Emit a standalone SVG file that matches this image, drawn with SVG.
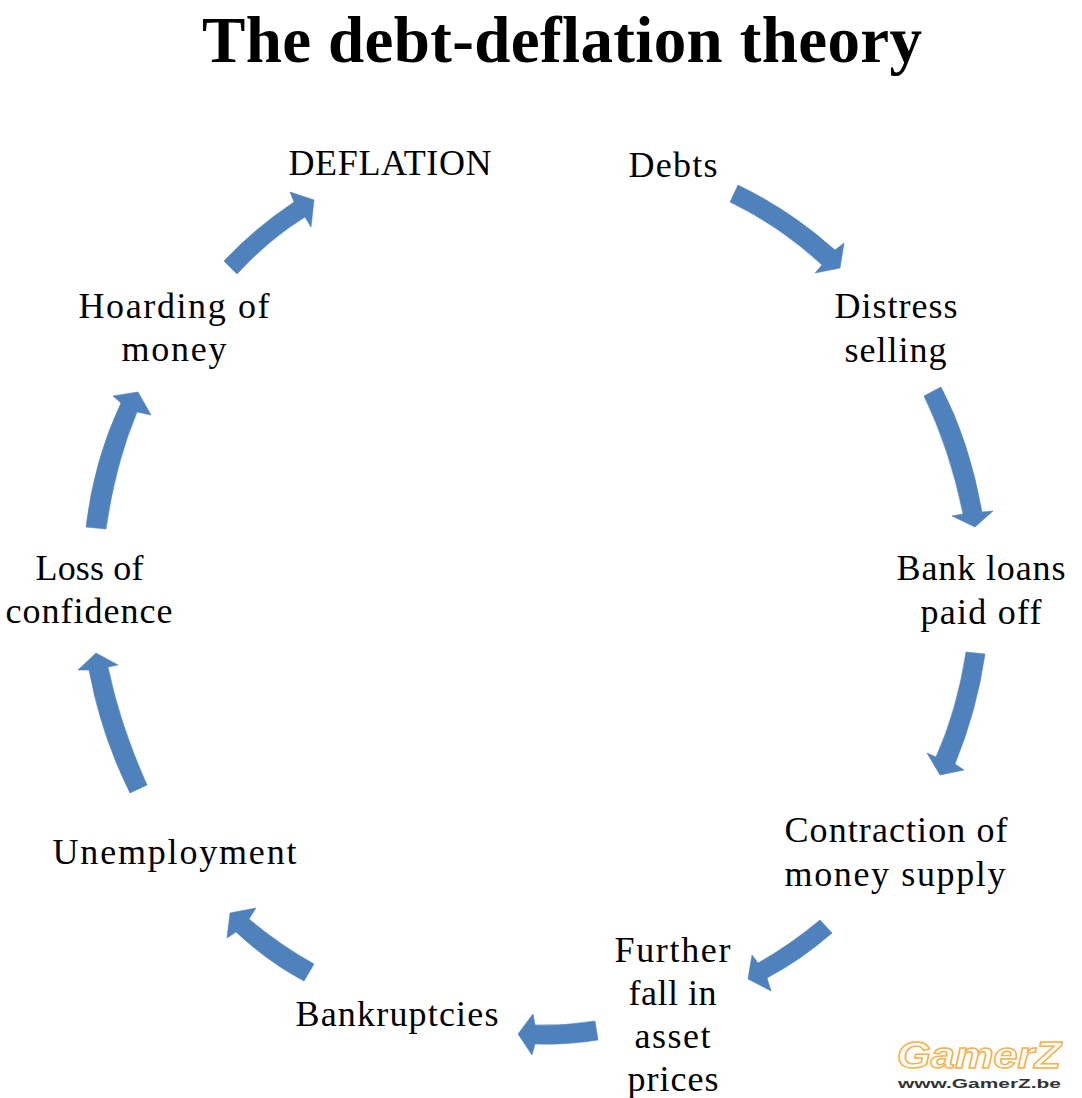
<svg xmlns="http://www.w3.org/2000/svg" width="1082" height="1098" viewBox="0 0 1082 1098">
<style>
text{font-family:"Liberation Serif","DejaVu Serif",serif;fill:#000}
.n{font-size:36px;transform:translateX(-.5px)}
.t{font-size:65px;font-weight:700}
.a{fill:#4f81bd;stroke:#4f81bd;stroke-width:.6;stroke-linejoin:miter}
.g{font-family:"Liberation Sans",Arial,sans-serif;font-style:italic;font-size:36px;font-weight:700;fill:#fff;stroke:#f7b04a;stroke-width:1.4}
.w{font-family:"Liberation Sans",Arial,sans-serif;font-size:13px;font-weight:700;fill:#333}
</style>
<rect width="1082" height="1098" fill="#fff"/>
<text id="title" class="t" x="202" y="62" textLength="720" lengthAdjust="spacing">The debt-deflation theory</text>
<g id="connectors">
<path class="a" d="M738,185Q790,210 835,250L844,243L840,268L815,273L822,265Q780,226 730,202Z"/>
<path class="a" d="M924,396Q950,450 963,514L952,516L975,527L993,511L982,512Q969,440 941,387Z"/>
<path class="a" d="M966,652Q957,710 936,757L927,753L940,775L964,770L955,764Q977,710 985,654Z"/>
<path class="a" d="M820,920Q790,945 758,963L752,955L748,979L771,991L767,978Q801,960 832,933Z"/>
<path class="a" d="M595,1021Q565,1026 535,1025L533,1014L518,1034L532,1055L535,1044Q568,1045 598,1040Z"/>
<path class="a" d="M314,964Q280,945 249,919L256,908L230,913L227,938L236,932Q268,962 304,981Z"/>
<path class="a" d="M147,785Q120,725 108,667L118,665L96,653L78,670L89,670Q101,735 130,793Z"/>
<path class="a" d="M86,527Q94,460 121,403L113,396L138,392L151,415L137,412Q115,465 106,529Z"/>
<path class="a" d="M224,261Q255,228 294,202L290,192L314,200L311,227L305,217Q268,240 237,274Z"/>
</g>
<g id="deflation"><text class="n" x="289" y="175" textLength="203" lengthAdjust="spacing">DEFLATION</text></g>
<g id="debts"><text class="n" x="629" y="177" textLength="89" lengthAdjust="spacing">Debts</text></g>
<g id="distress-selling"><text class="n" x="835" y="318" textLength="123" lengthAdjust="spacing">Distress</text><text class="n" x="845" y="362" textLength="102" lengthAdjust="spacing">selling</text></g>
<g id="bank-loans"><text class="n" x="897" y="580" textLength="169" lengthAdjust="spacing">Bank loans</text><text class="n" x="921" y="624" textLength="121" lengthAdjust="spacing">paid off</text></g>
<g id="contraction"><text class="n" x="785" y="842" textLength="223" lengthAdjust="spacing">Contraction of</text><text class="n" x="785" y="886" textLength="221" lengthAdjust="spacing">money supply</text></g>
<g id="further-fall"><text class="n" x="615" y="962" textLength="116" lengthAdjust="spacing">Further</text><text class="n" x="629" y="1005" textLength="88" lengthAdjust="spacing">fall in</text><text class="n" x="635" y="1048" textLength="76" lengthAdjust="spacing">asset</text><text class="n" x="628" y="1091" textLength="91" lengthAdjust="spacing">prices</text></g>
<g id="bankruptcies"><text class="n" x="296" y="1026" textLength="203" lengthAdjust="spacing">Bankruptcies</text></g>
<g id="unemployment"><text class="n" x="53" y="864" textLength="244" lengthAdjust="spacing">Unemployment</text></g>
<g id="loss-of-confidence"><text class="n" x="36" y="580" textLength="108" lengthAdjust="spacing">Loss of</text><text class="n" x="6" y="623" textLength="167" lengthAdjust="spacing">confidence</text></g>
<g id="hoarding"><text class="n" x="79" y="318" textLength="191" lengthAdjust="spacing">Hoarding of</text><text class="n" x="122" y="361" textLength="105" lengthAdjust="spacing">money</text></g>
<g id="watermark"><text class="g" x="897" y="1068" textLength="164" lengthAdjust="spacingAndGlyphs">GamerZ</text><text class="w" x="898" y="1088" textLength="163" lengthAdjust="spacingAndGlyphs">www.GamerZ.be</text></g>
</svg>
